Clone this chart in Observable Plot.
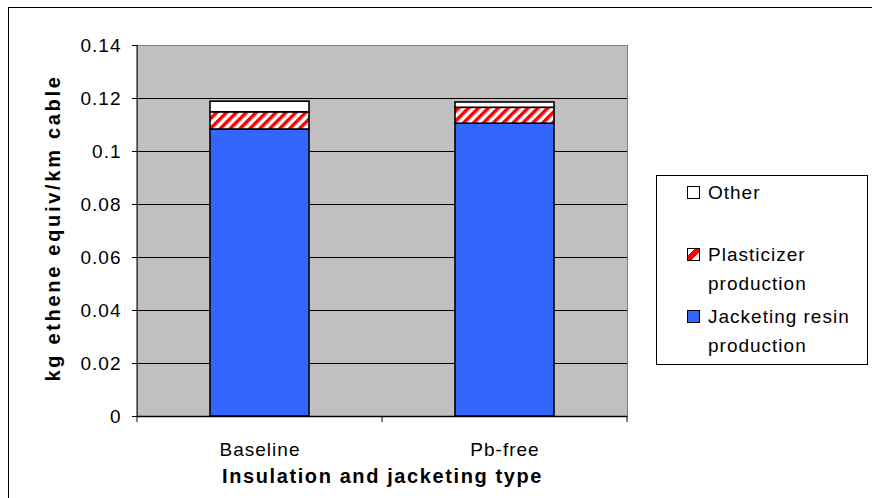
<!DOCTYPE html>
<html><head><meta charset="utf-8">
<script src="https://cdn.jsdelivr.net/npm/d3@7"></script>
<script src="https://cdn.jsdelivr.net/npm/@observablehq/plot@0.6"></script>
<style>
html,body{margin:0;padding:0;background:#fff;}
#wrap{position:relative;width:872px;height:498px;overflow:hidden;font-family:"Liberation Sans",Arial,sans-serif;}
#border{position:absolute;left:8px;top:7px;width:900px;height:600px;border:1px solid #000;box-sizing:border-box;pointer-events:none;}
#legend{position:absolute;left:656px;top:175px;width:212px;height:190px;border:1px solid #000;box-sizing:border-box;background:#fff;padding-top:2px;}
.item{height:62px;display:flex;align-items:flex-start;}
.sw{width:13px;height:13px;border:1.5px solid #000;box-sizing:border-box;margin-left:30px;margin-top:8px;flex:none;}
.lbl{margin-left:8px;font-size:19px;line-height:29px;letter-spacing:1px;color:#000;}
</style></head>
<body>
<div id="wrap"></div>
<script>
const categories = ["Baseline", "Pb-free"];
const seriesNames = ["Jacketing resin production", "Plasticizer production", "Other"];
const legendOrder = ["Other", "Plasticizer production", "Jacketing resin production"];
const jacketing = [0.1083, 0.1105];
const plasticizer = [0.0065, 0.006];
const other = [0.004, 0.002];
const yTicks = [0, 0.02, 0.04, 0.06, 0.08, 0.1, 0.12, 0.14];
const xTitle = "Insulation and jacketing type";
const yTitle = "kg ethene equiv/km cable";
const seriesColors = ["#3366ff", "url(#hatch)", "#ffffff"];
const legendSwatch = {
  "Other": "#ffffff",
  "Plasticizer production": "linear-gradient(135deg, #fff 30%, #ff0000 30%, #ff0000 65%, #fff 65%)",
  "Jacketing resin production": "#3366ff"
};

const seriesValues = [jacketing, plasticizer, other];
const data = [];
categories.forEach((c, i) => {
  seriesNames.forEach((s, j) => data.push({category: c, series: s, value: seriesValues[j][i]}));
});

function bandAxisDecor(index, scales, values, dims) {
  const x = scales.x;
  const g = d3.create("svg:g");
  const bottom = dims.height - dims.marginBottom;
  const bounds = categories.map(c => x(c)).concat([x.range()[1]]);
  g.selectAll("line.t").data(bounds).join("line")
    .attr("x1", d => d).attr("x2", d => d)
    .attr("y1", bottom).attr("y2", bottom + 6)
    .attr("stroke", "#000");
  g.append("line")
    .attr("x1", dims.marginLeft).attr("x2", dims.marginLeft)
    .attr("y1", dims.marginTop).attr("y2", bottom + 1)
    .attr("stroke", "#000");
  return g.node();
}

const plot = Plot.plot({
  width: 872,
  height: 498,
  marginLeft: 137,
  marginRight: 245,
  marginTop: 45,
  marginBottom: 82,
  style: {fontFamily: "'Liberation Sans', Arial, sans-serif", fontSize: "19px", color: "#000", background: "transparent"},
  x: {domain: categories, padding: 0, label: null},
  y: {domain: [0, 0.14], label: null},
  color: {domain: seriesNames, range: seriesColors},
  marks: [
    Plot.frame({fill: "#c0c0c0", stroke: "#808080"}),
    Plot.ruleY(yTicks.filter(t => t > 0 && t < 0.14), {stroke: "#000", strokeWidth: 1}),
    Plot.barY(data, {x: "category", y: "value", fill: "series", stroke: "#000", strokeWidth: 1.6, insetLeft: 73, insetRight: 73}),
    Plot.ruleY([0], {stroke: "#000", strokeWidth: 1.5}),
    Plot.axisY({ticks: yTicks, tickFormat: d3.format("~g"), tickSize: 5, tickPadding: 11, label: null, stroke: "#000", fill: "#000"}),
    Plot.axisX({tickSize: 0, tickPadding: 26, label: null, fill: "#000"}),
    bandAxisDecor,
    Plot.text([xTitle], {frameAnchor: "bottom", textAnchor: "middle", lineAnchor: "middle", dy: 60, fontWeight: "bold", fontSize: 20, fill: "#000"}),
    Plot.text([yTitle], {frameAnchor: "left", textAnchor: "middle", lineAnchor: "middle", rotate: -90, dx: -84, dy: -3, fontWeight: "bold", fontSize: 20, fill: "#000"})
  ]
});

const svg = d3.select(plot);
svg.insert("defs", ":first-child").html(
  '<pattern id="hatch" patternUnits="userSpaceOnUse" width="7" height="7" patternTransform="rotate(45)">' +
  '<rect width="7" height="7" fill="#fff"></rect><rect width="3.5" height="7" fill="#ff0000"></rect></pattern>'
);
svg.selectAll("text").attr("letter-spacing", "1px");
svg.selectAll("text").filter(function() { return this.textContent === xTitle; }).attr("letter-spacing", "1.6px");
svg.selectAll("text").filter(function() { return this.textContent === yTitle; }).attr("letter-spacing", "2.7px");

const wrap = document.getElementById("wrap");
wrap.appendChild(plot);
const border = document.createElement("div");
border.id = "border";
wrap.appendChild(border);

const legend = document.createElement("div");
legend.id = "legend";
legendOrder.forEach(name => {
  const item = document.createElement("div");
  item.className = "item";
  const sw = document.createElement("div");
  sw.className = "sw";
  sw.style.background = legendSwatch[name];
  const lbl = document.createElement("div");
  lbl.className = "lbl";
  const words = name.split(" ");
  lbl.innerHTML = name === "Other" ? "Other" : words.slice(0, -1).join(" ") + "<br>" + words[words.length - 1];
  item.appendChild(sw);
  item.appendChild(lbl);
  legend.appendChild(item);
});
wrap.appendChild(legend);
</script>
</body></html>
